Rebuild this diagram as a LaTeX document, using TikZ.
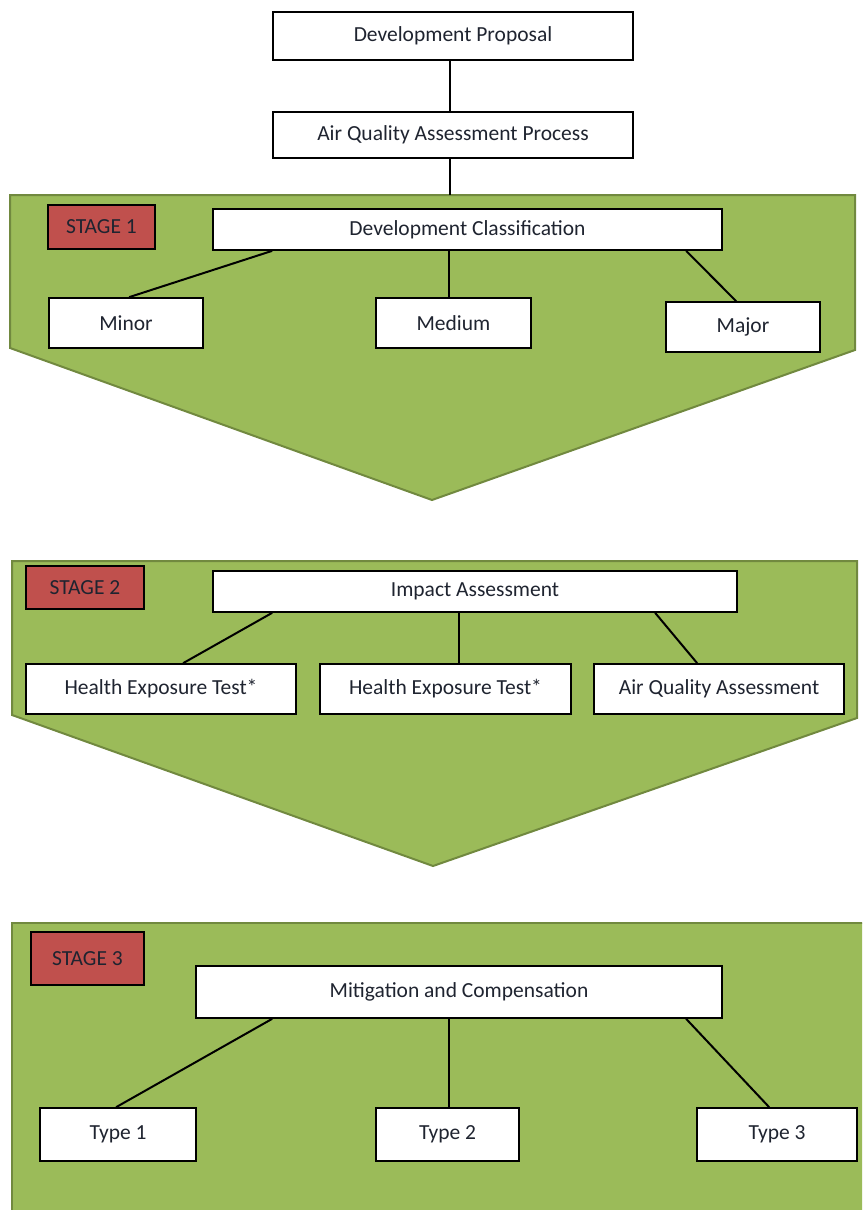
\documentclass[tikz,border=0pt]{standalone}
\usepackage{fontspec}
\setmainfont{Carlito}
\usetikzlibrary{calc}
\definecolor{stagegreen}{HTML}{9BBB59}
\definecolor{stageedge}{HTML}{71893F}
\definecolor{stagered}{HTML}{C0504D}
\definecolor{txt}{HTML}{1F2430}
\tikzset{
  box/.style={draw=black, fill=white, line width=1.7pt, inner sep=0pt, font=\fontsize{21.5}{24}\selectfont, text=txt},
  stagelbl/.style={box, fill=stagered},
  stagebg/.style={fill=stagegreen, draw=stageedge, line width=2pt, line join=miter},
  link/.style={draw=black, line width=2pt}
}
\begin{document}
\begin{tikzpicture}[x=1pt,y=-1pt]
\useasboundingbox (0,0) rectangle (862,1210);
\clip (0,0) rectangle (862,1210);
% stage backgrounds
\path[stagebg] (10,195) -- (855,195) -- (855,350) -- (432,500) -- (10,348) -- cycle;
\path[stagebg] (12,561) -- (857,561) -- (857,718) -- (433,866) -- (12,715) -- cycle;
\path[stagebg] (12,923) rectangle (880,1230);
% top
\node[box, minimum width=360, minimum height=48] (dp) at (453,36) {Development Proposal};
\node[box, minimum width=360, minimum height=46] (aqap) at (453,135) {Air Quality Assessment Process};
\coordinate (s1t) at (453,195);
% stage 1
\node[stagelbl, minimum width=107, minimum height=44] (l1) at (101.5,227) {STAGE 1};
\node[box, minimum width=509, minimum height=41] (dc) at (467.5,229.5) {Development Classification};
\node[box, minimum width=154, minimum height=50] (minor) at (126,323) {Minor};
\node[box, minimum width=155, minimum height=50] (medium) at (453.5,323) {Medium};
\node[box, minimum width=154, minimum height=50] (major) at (743,327) {Major};
% stage 2
\node[stagelbl, minimum width=118, minimum height=43] (l2) at (85,587.5) {STAGE 2};
\node[box, minimum width=524, minimum height=41] (ia) at (475,591.5) {Impact Assessment};
\node[box, minimum width=270, minimum height=50] (het1) at (161,689) {Health Exposure Test*};
\node[box, minimum width=251, minimum height=50] (het2) at (445.5,689) {Health Exposure Test*};
\node[box, minimum width=250, minimum height=50] (aqa) at (719,689) {Air Quality Assessment};
% stage 3
\node[stagelbl, minimum width=113, minimum height=53] (l3) at (87.5,958.5) {STAGE 3};
\node[box, minimum width=526, minimum height=52] (mc) at (459,992) {Mitigation and Compensation};
\node[box, minimum width=156, minimum height=53] (t1) at (118,1134.5) {Type 1};
\node[box, minimum width=143, minimum height=53] (t2) at (447.5,1134.5) {Type 2};
\node[box, minimum width=160, minimum height=53] (t3) at (777,1134.5) {Type 3};
% connectors
\draw[link] ($(dp.south)+(-3,0)$) -- ($(aqap.north)+(-3,0)$);
\draw[link] ($(aqap.south)+(-3,0)$) -- ($(s1t)+(-3,0)$);
\draw[link] ($(dc.south west)+(60,0)$) -- ($(minor.north west)+(81,0)$);
\draw[link] ($(dc.south west)+(237,0)$) -- ($(medium.north west)+(74,0)$);
\draw[link] ($(dc.south west)+(474,0)$) -- ($(major.north west)+(71,0)$);
\draw[link] ($(ia.south west)+(60,0)$) -- ($(het1.north west)+(158,0)$);
\draw[link] ($(ia.south west)+(247,0)$) -- ($(het2.north west)+(140,0)$);
\draw[link] ($(ia.south west)+(443,0)$) -- ($(aqa.north west)+(104,0)$);
\draw[link] ($(mc.south west)+(77,0)$) -- ($(t1.north west)+(77,0)$);
\draw[link] ($(mc.south west)+(254,0)$) -- ($(t2.north west)+(74,0)$);
\draw[link] ($(mc.south west)+(491,0)$) -- ($(t3.north west)+(73,0)$);
\end{tikzpicture}
\end{document}
